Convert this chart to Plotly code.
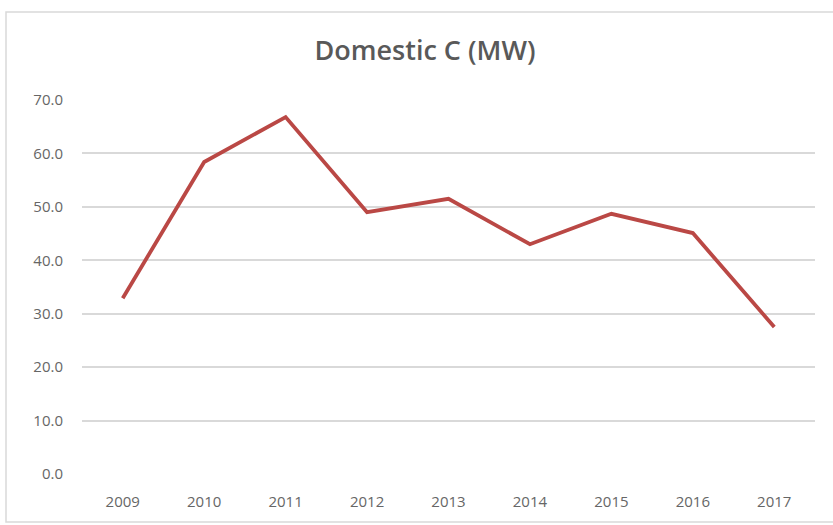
import plotly.graph_objects as go

years = ["2009", "2010", "2011", "2012", "2013", "2014", "2015", "2016", "2017"]
values = [32.9, 58.4, 66.8, 49.0, 51.5, 43.0, 48.7, 45.1, 27.5]
y_ticks = [0, 10, 20, 30, 40, 50, 60, 70]
y_tick_labels = ["0.0", "10.0", "20.0", "30.0", "40.0", "50.0", "60.0", "70.0"]

W, H = 833, 525
ml, mr, mt, mb = 82, 18, 100, 51
pw, ph = W - ml - mr, H - mt - mb

def px_to_paper_x(px):
    return (px - ml) / pw

def px_to_paper_y(py):
    return (H - mb - py) / ph

fig = go.Figure()
fig.add_trace(go.Scatter(
    x=years, y=values, mode="lines",
    line=dict(color="#BA4845", width=3.8),
    hoverinfo="x+y",
))

tick_font = dict(family="Open Sans", size=15, color="#666666")

bx0, bx1 = px_to_paper_x(6), px_to_paper_x(833)
by0, by1 = px_to_paper_y(522), px_to_paper_y(12)
border_path = f"M {bx1},{by1} L {bx0},{by1} L {bx0},{by0} L {bx1},{by0}"

fig.update_layout(
    width=W, height=H,
    margin=dict(l=ml, r=mr, t=mt, b=mb),
    paper_bgcolor="white", plot_bgcolor="white",
    showlegend=False,
    title=dict(text="Domestic C (MW)", x=425 / W, xanchor="center",
               y=1 - 51 / H, yanchor="middle",
               font=dict(family="Open Sans", size=27, color="#595959", weight=600)),
    xaxis=dict(type="category", range=[-0.5, 8.5], showgrid=False, zeroline=False,
               showline=False, ticks="", ticklabelstandoff=17, tickfont=tick_font),
    yaxis=dict(range=[0, 70], tickvals=y_ticks, ticktext=y_tick_labels,
               showgrid=True, gridcolor="#D9D9D9", gridwidth=1.5,
               zeroline=False, showline=False, ticks="", ticklabelstandoff=18,
               tickfont=tick_font),
    shapes=[dict(type="path", xref="paper", yref="paper", path=border_path,
                 line=dict(color="#D9D9D9", width=1.5), layer="below")],
)

fig.write_html("out.html", config={"displayModeBar": False},
               post_script="document.body.style.margin='0px';document.body.style.padding='0px';")
